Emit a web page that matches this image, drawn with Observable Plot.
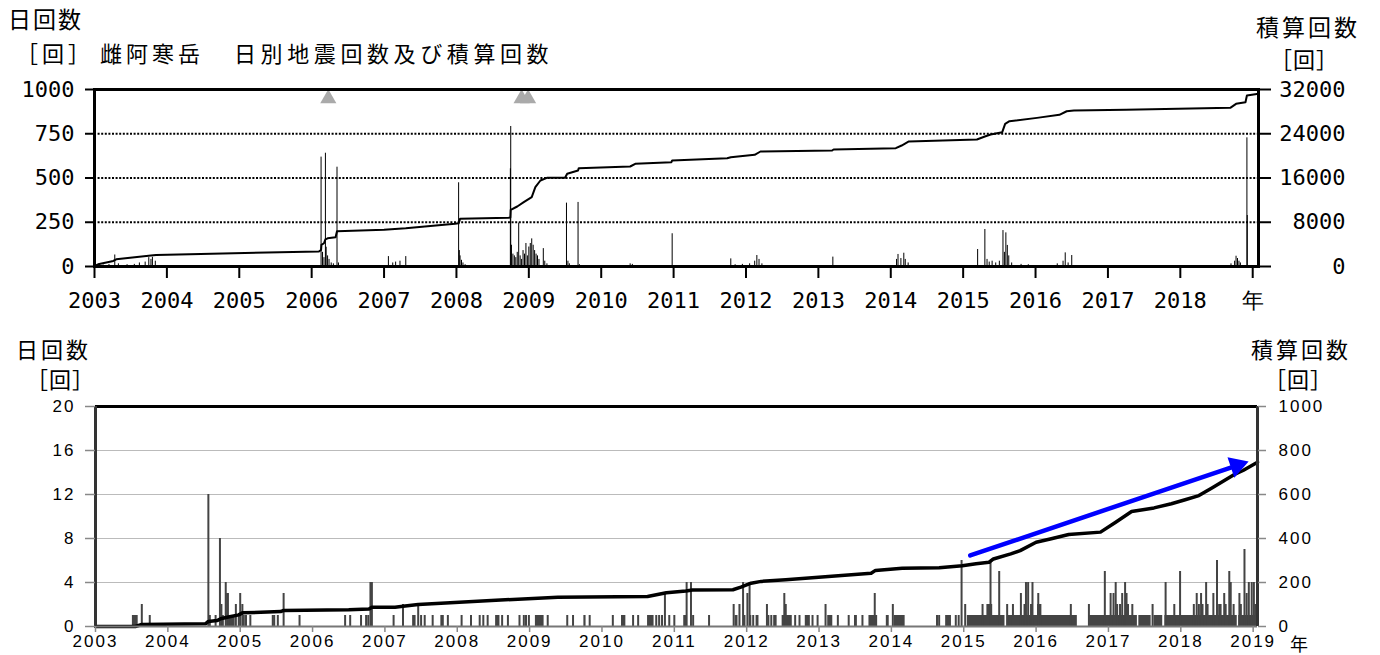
<!DOCTYPE html>
<html>
<head>
<meta charset="utf-8">
<script src="https://cdn.jsdelivr.net/npm/d3@7"></script>
<script src="https://cdn.jsdelivr.net/npm/@observablehq/plot@0.6"></script>
<style>
  body { margin: 0; background: #fff; }
  #wrap { position: relative; width: 1380px; height: 655px; overflow: hidden; background: #fff; }
  .lbl { position: absolute; font-family: "Noto Sans CJK JP", sans-serif; color: #000; white-space: nowrap; line-height: 1; }
  .t1 { font-size: 23px; letter-spacing: 2px; }
  .t2 { font-size: 22px; letter-spacing: 4px; }
  .b1 { font-size: 22px; letter-spacing: 3px; }
  #top, #bot { position: absolute; left: 0; }
  #top { top: 60px; }
  #bot { top: 380px; }
</style>
</head>
<body>
<div id="wrap">
  <div class="lbl t1" style="left:8px;top:7px;">日回数</div>
  <div class="lbl t2" style="left:16px;top:41px;">［回］</div>
  <div class="lbl t2" style="left:100px;top:41px;">雌阿寒岳</div>
  <div class="lbl t2" style="left:234px;top:41px;letter-spacing:4.6px;">日別地震回数及び積算回数</div>
  <div class="lbl t1" style="left:1256px;top:15px;letter-spacing:3px;">積算回数</div>
  <div class="lbl t2" style="left:1270px;top:47px;letter-spacing:1px;">［回］</div>

  <div class="lbl b1" style="left:16px;top:337px;">日回数</div>
  <div class="lbl b1" style="left:26px;top:367px;letter-spacing:1px;">［回］</div>
  <div class="lbl b1" style="left:1251px;top:337px;">積算回数</div>
  <div class="lbl b1" style="left:1264px;top:367px;letter-spacing:1px;">［回］</div>
  <div class="lbl" style="left:1290px;top:634px;font-size:18px;">年</div>

  <div id="top"></div>
  <div id="bot"></div>
</div>
<script>
// ---------------- data: upper panel ----------------
const xTickYears = [2003,2004,2005,2006,2007,2008,2009,2010,2011,2012,2013,2014,2015,2016,2017,2018,2019];
const topXTickLabels = ["2003","2004","2005","2006","2007","2008","2009","2010","2011","2012","2013","2014","2015","2016","2017","2018","年"];
const topLeftTicks = [0,250,500,750,1000];
const topLeftTickLabels = ["0","250","500","750","1000"];
const topRightTickLabels = ["0","8000","16000","24000","32000"];
const topRightMax = 32000;
const topLeftMax = 1000;

const topDayYear = [2003.05,2003.12,2003.20,2003.28,2003.33,2003.45,2003.55,2003.62,2003.70,2003.75,2003.78,2003.80,2003.84,
  2006.13,2006.15,2006.17,2006.19,2006.20,2006.22,2006.24,2006.27,2006.30,2006.35,2006.37,
  2007.06,2007.12,2007.16,2007.22,2007.30,
  2008.03,2008.04,2008.05,2008.07,2008.09,2008.12,
  2008.745,2008.75,2008.76,2008.78,2008.80,2008.82,2008.84,2008.86,2008.88,2008.90,2008.92,2008.94,2008.96,2008.98,2009.00,2009.02,2009.04,2009.06,2009.08,2009.10,2009.12,2009.14,2009.20,2009.22,2009.25,
  2009.52,2009.54,2009.56,2009.68,2009.70,
  2010.40,2010.43,2010.98,
  2011.79,2011.85,2011.95,2012.05,2012.12,2012.15,2012.18,2012.22,
  2013.20,
  2014.08,2014.10,2014.14,2014.18,2014.20,2014.24,
  2015.20,2015.30,2015.33,2015.36,2015.40,2015.45,2015.50,2015.55,2015.57,2015.59,2015.61,2015.63,2015.67,2015.80,2015.90,
  2016.30,2016.38,2016.41,2016.45,2016.50,
  2018.70,2018.75,2018.77,2018.79,2018.81,2018.83,2018.92,2018.925];
const topDayCount = [10,8,12,65,15,10,12,20,25,50,40,52,30,
  618,80,50,640,109,60,40,20,15,561,20,
  56,20,25,30,56,
  473,90,60,35,20,10,
  552,791,120,70,60,50,80,245,60,40,90,70,130,60,110,130,156,120,90,70,60,40,101,30,15,
  358,30,15,362,10,
  15,12,185,
  43,10,12,15,30,62,40,15,
  53,
  40,68,45,75,40,20,
  96,209,40,25,30,20,30,203,80,190,119,60,20,12,10,
  15,30,77,20,62,
  15,30,58,45,30,20,727,288];

const topCumYear = [2003.00,2003.05,2003.26,2003.30,2003.78,2003.85,2006.10,2006.13,2006.135,2006.17,2006.19,2006.22,2006.33,2006.35,
  2007.00,2007.30,2007.98,2008.03,2008.05,2008.72,2008.745,2008.75,2008.84,2008.93,2009.04,2009.09,2009.16,2009.25,2009.50,2009.53,
  2009.68,2009.69,2010.40,2010.47,2010.97,2010.98,2011.74,2011.79,2012.12,2012.20,2013.19,2013.21,2014.07,2014.15,2014.25,
  2015.19,2015.30,2015.38,2015.54,2015.58,2015.64,2016.02,2016.33,2016.43,2016.53,2017.25,2018.69,2018.77,2018.90,2018.92,2019.08];
const topCumCount = [100,400,1000,1300,1990,2100,2710,3000,3900,4200,4900,5100,5300,6390,
  6630,6900,7720,7800,8620,8800,8850,10250,10850,11630,12530,14340,15550,16030,16030,16760,
  17360,17780,18080,18570,18860,19160,19580,19760,20190,20790,20970,21150,21390,21870,22600,
  22960,23500,23860,24280,25790,26270,26870,27420,28070,28200,28330,28690,29410,29710,30920,31220];

const eruptionYears = [2006.23, 2008.90, 2008.99];

// ---------------- data: lower panel ----------------
const botLeftTicks = [0,4,8,12,16,20];
const botRightTickLabels = ["0","200","400","600","800","1000"];
const botRightMax = 1000;
const botLeftMax = 20;
const botXTickLabels = ["2003","2004","2005","2006","2007","2008","2009","2010","2011","2012","2013","2014","2015","2016","2017","2018","2019"];

const botDayYear = [2003.64,2003.75,
  2004.56,2004.58,2004.66,2004.72,2004.74,2004.76,2004.80,2004.82,2004.83,2004.86,2004.89,2004.91,2004.94,2004.98,2005.00,2005.03,2005.05,2005.08,2005.14,
  2005.45,2005.47,2005.52,2005.60,2005.82,2006.45,2006.52,2006.67,2006.74,2006.77,2006.80,2006.82,2007.12,
  2007.25,2007.39,2007.41,2007.46,2007.50,2007.55,2007.66,2007.78,2007.80,2007.87,2008.06,2008.19,2008.31,2008.36,2008.42,2008.62,2008.70,
  2008.86,2008.92,2008.95,2008.99,2009.25,2009.52,2009.60,2009.83,2010.15,2010.43,2010.50,2010.75,2010.79,2010.83,2010.87,2010.93,2011.00,
  2011.17,2011.23,2011.26,2011.48,2011.82,2011.90,2011.95,2012.01,2012.04,2012.05,2012.09,2012.28,2012.30,2012.34,2012.38,2012.40,2012.52,2012.54,
  2012.67,2012.73,2012.91,2012.98,2013.09,2013.26,2013.41,2013.60,2013.77,2014.02,2014.63,2014.66,2014.89,2014.93,2014.97,2015.02,
  2015.26,2015.37,2015.49,2015.60,2015.68,2015.79,2015.84,2015.86,2015.89,2015.93,2015.95,2016.03,2016.48,2016.73,2016.95,
  2017.03,2017.07,2017.10,2017.12,2017.16,2017.19,2017.23,2017.25,2017.27,2017.33,2017.61,2017.79,2017.91,2017.99,
  2018.18,2018.22,2018.25,2018.28,2018.30,2018.35,2018.37,2018.45,2018.50,2018.53,2018.55,2018.60,2018.62,2018.67,2018.69,2018.73,
  2018.81,2018.83,2018.88,2018.91,2018.94,2018.98,2019.01,2019.03,2019.06];
const botDayCount = [2,1,
  12,1,1,8,2,1,4,3,3,1,1,1,2,1,3,2,1,1,1,
  1,1,1,3,1,1,1,1,1,1,4,4,1,
  2,1,1,2,1,1,1,1,1,1,1,1,1,1,1,1,1,
  1,1,1,1,1,1,1,1,1,1,1,1,1,1,3,1,1,
  4,4,1,1,2,2,4,3,4,1,1,2,1,1,1,1,3,2,
  1,1,1,1,2,1,1,1,3,2,1,1,1,1,6,2,
  2,6,5,2,2,3,2,4,4,2,4,3,2,2,5,
  3,3,4,2,2,3,4,3,2,2,2,4,2,5,
  2,3,2,3,2,4,2,3,6,2,2,3,2,5,4,2,
  3,2,7,3,4,4,4,2,20];

const botRunStart = [2003.51,2004.84,2008.53,2009.08,2009.75,2010.27,2010.63,2011.13,2011.84,2011.97,2012.13,2012.49,2012.81,2013.12,2013.49,2013.69,2013.93,2014.04,2014.75,
  2015.05,2015.32,2015.60,2016.02,2016.74,2017.42,2017.63,2017.78,2018.80];
const botRunEnd = [2003.59,2004.92,2008.59,2009.20,2009.78,2010.33,2010.72,2011.18,2011.88,2011.99,2012.17,2012.63,2012.88,2013.19,2013.53,2013.81,2013.97,2014.19,2014.83,
  2015.57,2015.40,2016.57,2016.08,2017.40,2017.59,2017.75,2018.78,2019.05];
const botRunCount = [1,1,1,1,1,1,1,1,1,1,1,1,1,1,1,1,1,1,1,
  1,2,1,2,1,1,1,1,1];

const botCumYear = [2003.00,2003.55,2003.64,2004.52,2004.56,2004.68,2004.73,2004.82,2004.98,2005.03,2005.56,2005.60,2006.50,2006.78,2006.82,2007.14,
  2007.25,2007.46,2008.47,2009.39,2010.63,2010.89,2011.16,2011.25,2011.81,2011.92,2012.06,2012.20,2012.54,2013.72,2013.78,2014.15,2014.66,
  2014.98,2015.17,2015.35,2015.41,2015.65,2015.78,2016.00,2016.21,2016.45,2016.89,2017.10,2017.32,2017.63,2017.87,2018.06,2018.25,2018.43,2018.74,2018.86,2019.06];
const botCumCount = [0,0,9,12,23,27,35,42,53,62,68,73,76,80,88,88,
  92,100,118,133,136,153,161,166,167,179,197,205,212,242,255,265,267,
  276,285,292,307,330,345,383,399,418,429,474,523,539,558,576,595,630,691,709,747];

const arrowFrom = [2015.09, 323];
const arrowTo = [2018.94, 750];

// ---------------- build tables ----------------
const topDays = topDayYear.map((year, i) => ({year, count: topDayCount[i]}));
const topCum = topCumYear.map((year, i) => ({year, cum: topCumCount[i]}));
const botDays = botDayYear.map((year, i) => ({year, count: botDayCount[i]}));
const botRuns = botRunStart.map((start, i) => ({start, end: botRunEnd[i], count: botRunCount[i]}));
const botCum = botCumYear.map((year, i) => ({year, cum: botCumCount[i]}));
const arrowRow = [{x1: arrowFrom[0], y1: arrowFrom[1] * botLeftMax / botRightMax, x2: arrowTo[0], y2: arrowTo[1] * botLeftMax / botRightMax}];

// ---------------- upper chart ----------------
const topPlot = Plot.plot({
  width: 1380, height: 260,
  marginLeft: 94, marginRight: 122, marginTop: 29, marginBottom: 54,
  style: {fontFamily: "'DejaVu Sans Mono', monospace", fontSize: "22px", background: "transparent", overflow: "visible", color: "#000"},
  x: {type: "linear", domain: [2003, 2019.08]},
  y: {domain: [0, topLeftMax]},
  marks: [
    Plot.ruleY([250, 500, 750], {stroke: "#000", strokeWidth: 2, strokeDasharray: "2,1.6"}),
    Plot.ruleX(topDays, {x: "year", y1: 0, y2: "count", stroke: "#000", strokeWidth: 1}),
    Plot.line(topCum, {x: "year", y: d => d.cum * topLeftMax / topRightMax, stroke: "#000", strokeWidth: 2}),
    Plot.dot(eruptionYears, {x: d => d, frameAnchor: "top", dy: 9, symbol: "triangle", r: 6, fill: "#aaa", stroke: "none"}),
    Plot.frame({stroke: "#000", strokeWidth: 3}),
    Plot.axisX({ticks: xTickYears, tickFormat: (d, i) => topXTickLabels[i], tickSize: 12, tickPadding: 14, strokeWidth: 2, label: null}),
    Plot.axisY({anchor: "left", ticks: topLeftTicks, tickFormat: (d, i) => topLeftTickLabels[i], tickSize: 9, tickPadding: 11, strokeWidth: 2, label: null}),
    Plot.axisY({anchor: "right", ticks: topLeftTicks, tickFormat: (d, i) => topRightTickLabels[i], tickSize: 12, tickPadding: 75, textAnchor: "end", strokeWidth: 2, label: null})
  ]
});
document.getElementById("top").appendChild(topPlot);

// ---------------- lower chart ----------------
const botPlot = Plot.plot({
  width: 1380, height: 275,
  marginLeft: 95, marginRight: 123, marginTop: 26, marginBottom: 29,
  style: {fontFamily: "'Liberation Sans', Arial, sans-serif", fontSize: "17px", letterSpacing: "2px", background: "transparent", overflow: "visible", color: "#000"},
  x: {type: "linear", domain: [2003, 2019.06]},
  y: {domain: [0, botLeftMax]},
  marks: [
    Plot.ruleY([4, 8, 12, 16], {stroke: "#bbb", strokeWidth: 1.2}),
    Plot.rectY(botRuns, {x1: "start", x2: "end", y: "count", fill: "#444"}),
    Plot.ruleX(botDays, {x: "year", y1: 0, y2: "count", stroke: "#444", strokeWidth: 2}),
    Plot.line(botCum, {x: "year", y: d => d.cum * botLeftMax / botRightMax, stroke: "#000", strokeWidth: 3.5}),
    Plot.arrow(arrowRow, {x1: "x1", y1: "y1", x2: "x2", y2: "y2", stroke: "#0000ff", strokeWidth: 4.5, headLength: 0, insetEnd: 12}),
    Plot.dot(arrowRow, {x: "x2", y: "y2", symbol: "triangle", r: 8, rotate: 71.4, dx: -12, dy: 4, fill: "#0000ff", stroke: "none"}),
    Plot.ruleY([0], {stroke: "#777", strokeWidth: 2}),
    Plot.ruleY([botLeftMax], {stroke: "#000", strokeWidth: 3}),
    Plot.ruleX([2003], {stroke: "#333", strokeWidth: 3}),
    Plot.ruleX([2019.06], {stroke: "#333", strokeWidth: 3}),
    Plot.axisX({ticks: xTickYears, tickFormat: (d, i) => botXTickLabels[i], tickSize: 6, tickPadding: 2, stroke: "#888", strokeWidth: 1.5, label: null}),
    Plot.axisY({anchor: "left", ticks: botLeftTicks, tickSize: 10, tickPadding: 10, stroke: "#888", strokeWidth: 1.5, label: null}),
    Plot.axisY({anchor: "right", ticks: botLeftTicks, tickFormat: (d, i) => botRightTickLabels[i], tickSize: 8, tickPadding: 13, stroke: "#888", strokeWidth: 1.5, label: null})
  ]
});
document.getElementById("bot").appendChild(botPlot);
</script>
</body>
</html>
